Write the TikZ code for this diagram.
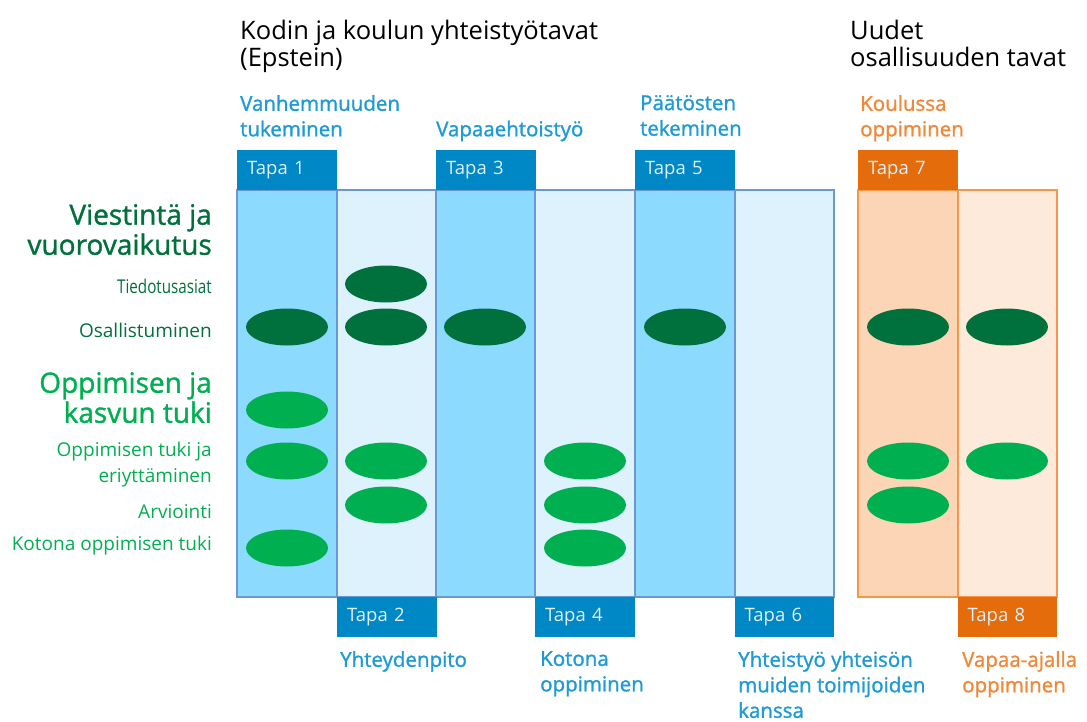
\documentclass[tikz,border=0pt]{standalone}
\usepackage{fontspec}
\setmainfont{Open Sans}
\newfontfamily\labfont[FakeBold=1.3]{Open Sans}
\usetikzlibrary{shapes.geometric}
\definecolor{tapablue}{RGB}{0,135,197}
\definecolor{coldark}{RGB}{141,218,255}
\definecolor{collight}{RGB}{221,242,253}
\definecolor{colborder}{RGB}{106,152,208}
\definecolor{labelblue}{RGB}{30,154,214}
\definecolor{tapaorange}{RGB}{228,108,10}
\definecolor{orangedark}{RGB}{251,213,181}
\definecolor{orangelight}{RGB}{253,234,218}
\definecolor{orangeborder}{RGB}{247,150,70}
\definecolor{labelorange}{RGB}{240,136,58}
\definecolor{dgreen}{RGB}{0,112,60}
\definecolor{bgreen}{RGB}{0,176,80}
\definecolor{tapatext}{RGB}{225,240,250}
\tikzset{
  colbox/.style={draw=colborder, line width=1.2pt},
  ocolbox/.style={draw=orangeborder, line width=1.2pt},
  tapabox/.style={fill=tapablue, minimum width=100pt, minimum height=40pt, inner sep=0pt, anchor=north west, text=tapatext, font=\fontsize{18.5}{18.5}\selectfont, text width=88pt, align=left},
  otapabox/.style={tapabox, fill=tapaorange},
  dotd/.style={ellipse, fill=dgreen, minimum width=82pt, minimum height=37pt, inner sep=0pt},
  dotb/.style={ellipse, fill=bgreen, minimum width=82pt, minimum height=37pt, inner sep=0pt},
  title/.style={anchor=north west, align=left, font=\fontsize{25.5}{27}\selectfont, inner sep=0pt},
  blab/.style={anchor=north west, align=left, text=labelblue, font=\labfont\fontsize{20.5}{25.5}\selectfont, inner sep=0pt},
  olab/.style={blab, text=labelorange},
  bighead/.style={anchor=north east, align=right, font=\labfont\fontsize{28}{30}\selectfont, inner sep=0pt},
  item/.style={anchor=east, align=right, font=\fontsize{19}{26}\selectfont, inner sep=0pt},
}
\begin{document}
\begin{tikzpicture}[x=1pt,y=-1pt]
\useasboundingbox (0,0) rectangle (1087,722);
% columns
\path[colbox, fill=coldark] (237,190) rectangle (337,597);
\path[colbox, fill=collight] (337,190) rectangle (436,597);
\path[colbox, fill=coldark] (436,190) rectangle (535,597);
\path[colbox, fill=collight] (535,190) rectangle (635,597);
\path[colbox, fill=coldark] (635,190) rectangle (735,597);
\path[colbox, fill=collight] (735,190) rectangle (834,597);
\path[ocolbox, fill=orangedark] (858,190) rectangle (958,597);
\path[ocolbox, fill=orangelight] (958,190) rectangle (1057,597);
% tapa boxes
\node[tapabox] (t1) at (237,150) {\hspace*{4pt}Tapa 1};
\node[tapabox] (t3) at (436,150) {\hspace*{4pt}Tapa 3};
\node[tapabox] (t5) at (635,150) {\hspace*{4pt}Tapa 5};
\node[otapabox] (t7) at (858,150) {\hspace*{4pt}Tapa 7};
\node[tapabox] (t2) at (337,597) {\hspace*{4pt}Tapa 2};
\node[tapabox] (t4) at (535,597) {\hspace*{4pt}Tapa 4};
\node[tapabox, minimum width=99pt] (t6) at (735,597) {\hspace*{4pt}Tapa 6};
\node[otapabox, minimum width=99pt] (t8) at (958,597) {\hspace*{4pt}Tapa 8};
% titles
\node[title] (h1) at (240,20) {Kodin ja koulun yhteistyötavat\\(Epstein)};
\node[title] (h2) at (850,20) {Uudet\\osallisuuden tavat};
% top labels
\node[blab] (l1) at (240,95) {Vanhemmuuden\\tukeminen};
\node[blab] (l3) at (436,120.5) {Vapaaehtoistyö};
\node[blab] (l5) at (640,95) {Päätösten\\tekeminen};
\node[olab] (l7) at (860,95) {Koulussa\\oppiminen};
% bottom labels
\node[blab] (l2) at (340,651) {Yhteydenpito};
\node[blab] (l4) at (540,651) {Kotona\\oppiminen};
\node[blab] (l6) at (738,651) {Yhteistyö yhteisön\\muiden toimijoiden\\kanssa};
\node[olab] (l8) at (962,651) {Vapaa-ajalla\\oppiminen};
% left headings
\node[bighead, text=dgreen] (v1) at (212,204) {Viestintä ja\\vuorovaikutus};
\node[item, text=dgreen] (i1) at (212,286) {\scalebox{0.8}[1]{Tiedotusasiat}};
\node[item, text=dgreen] (i2) at (212,330) {Osallistuminen};
\node[bighead, text=bgreen] (v2) at (212,372) {Oppimisen ja\\kasvun tuki};
\node[item, text=bgreen] (i3) at (212,465) {Oppimisen tuki ja\\eriyttäminen};
\node[item, text=bgreen] (i4) at (212,512) {Arviointi};
\node[item, text=bgreen] (i5) at (212,546) {Kotona oppimisen tuki};
% ellipses
\node[dotd] (e22) at (386,284) {};
\node[dotd] (e11) at (287,327) {};
\node[dotd] (e21) at (386,327) {};
\node[dotd] (e31) at (485,327) {};
\node[dotd] (e51) at (685,327) {};
\node[dotd] (e71) at (908,327) {};
\node[dotd] (e81) at (1007,327) {};
\node[dotb] (e1k) at (287,410) {};
\node[dotb] (e1o) at (287,461) {};
\node[dotb] (e2o) at (386,461) {};
\node[dotb] (e4o) at (585,461) {};
\node[dotb] (e7o) at (908,461) {};
\node[dotb] (e8o) at (1007,461) {};
\node[dotb] (e2a) at (386,505) {};
\node[dotb] (e4a) at (585,505) {};
\node[dotb] (e7a) at (908,505) {};
\node[dotb] (e1t) at (287,548) {};
\node[dotb] (e4t) at (585,548) {};
\end{tikzpicture}
\end{document}
